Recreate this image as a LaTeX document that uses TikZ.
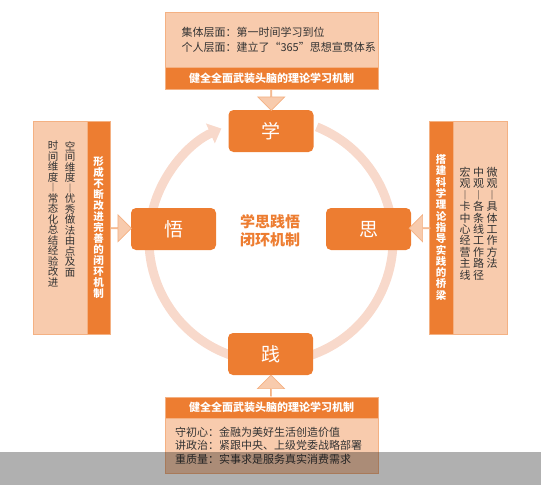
\documentclass[tikz,border=0pt]{standalone}
\usepackage{fontspec}
\setmainfont{Noto Sans CJK SC}
\usetikzlibrary{positioning,calc,shapes.arrows,arrows.meta}

\definecolor{orng}{HTML}{ED7D31}
\definecolor{peach}{HTML}{F8CBAD}
\definecolor{edgecol}{HTML}{F4B183}
\definecolor{ringcol}{HTML}{F8D9CB}
\definecolor{txt}{HTML}{333333}

% one character per line
\def\vtxt#1{\vtxtA#1\relax}
\def\vtxtA#1{#1\vtxtB}
\def\vtxtB#1{\ifx\relax#1\else\\#1\expandafter\vtxtB\fi}

\tikzset{
  stepbox/.style={fill=orng, rounded corners=5pt, minimum width=85pt, minimum height=42pt,
    text=white, font=\fontsize{19}{19}\selectfont},
  infobox/.style={fill=peach, draw=edgecol, line width=0.8pt, text=txt},
  band/.style={fill=orng, draw=edgecol, line width=0.8pt, text=white},
  bigarrow/.style={single arrow, fill=peach, draw=edgecol, line width=0.7pt, inner sep=0pt,
    minimum width=27pt, single arrow head extend=7.5pt, minimum height=21pt},
  coltext/.style={anchor=north, inner sep=0pt, align=center, text=txt}
}

\begin{document}
\begin{tikzpicture}[x=1pt, y=1pt]
\useasboundingbox (0,0) rectangle (541,-485);

\def\cx{271}
\def\yxue{-131}
\def\ymid{-229}
\def\yjian{-354}

\coordinate (o) at (\cx, -240);

% ring
\draw[ringcol, line width=9pt, -{Triangle[width=21pt, length=12pt]}]
  (o) ++(68:122) arc[start angle=68, end angle=-246, radius=122];

% the four steps
\node[stepbox] (xue) at (\cx, \yxue) {学};
\node[stepbox] (wu) at (173.5, \ymid) {悟};
\node[stepbox] (si) at (368.5, \ymid) {思};
\node[stepbox] (jian) at (270.5, \yjian) {践};

\node[text=orng, align=center, font=\bfseries\fontsize{15}{18}\selectfont] (ctr) at (270, -231)
  {学思践悟\\闭环机制};

% top
\node[infobox, minimum width=213pt, minimum height=55pt, text width=180pt, align=left,
  font=\fontsize{11}{15}\selectfont] (topinfo) at (271.5, -39.5)
  {集体层面：第一时间学习到位\\个人层面：建立了“365”思想宣贯体系};
\node[band, minimum width=213pt, minimum height=22pt, font=\bfseries\fontsize{11}{11}\selectfont]
  (topband) at (271.5, -78) {健全全面武装头脑的理论学习机制};

% bottom
\node[band, minimum width=213pt, minimum height=21pt, font=\bfseries\fontsize{11}{11}\selectfont]
  (botband) at (271.5, -407.5) {健全全面武装头脑的理论学习机制};
\node[infobox, minimum width=213pt, minimum height=55pt, text width=193pt, align=left,
  font=\fontsize{11}{13.5}\selectfont] (botinfo) at (271.5, -445.5)
  {守初心：金融为美好生活创造价值\\讲政治：紧跟中央、上级党委战略部署\\重质量：实事求是服务真实消费需求};

% left
\node[infobox, minimum width=54pt, minimum height=213pt] (leftinfo) at (60, -227.5) {};
\node[band, minimum width=23pt, minimum height=213pt, align=center,
  font=\bfseries\fontsize{10.5}{11}\selectfont] (leftband) at (98.5, -227.5)
  {\vtxt{形成不断改进完善的闭环机制}};
\node[coltext, font=\fontsize{10.5}{10.5}\selectfont] (spc) at (70, -141)
  {\vtxt{空间维度︱优秀做法由点及面}};
\node[coltext, font=\fontsize{10.5}{10.5}\selectfont] (tim) at (53, -141)
  {\vtxt{时间维度︱常态化总结经验改进}};

% right
\node[band, minimum width=24pt, minimum height=213pt, align=center,
  font=\bfseries\fontsize{10.5}{11.3}\selectfont] (rightband) at (441, -227.5)
  {\vtxt{搭建科学理论指导实践的桥梁}};
\node[infobox, minimum width=54pt, minimum height=213pt] (rightinfo) at (480, -227.5) {};
\node[coltext, font=\fontsize{11}{11.4}\selectfont] (micro) at (492, -167)
  {\vtxt{微观︱具体工作方法}};
\node[coltext, font=\fontsize{11}{11.4}\selectfont] (meso) at (478.5, -167)
  {\vtxt{中观︱各条线工作路径}};
\node[coltext, font=\fontsize{11}{11.4}\selectfont] (macro) at (465, -167)
  {\vtxt{宏观︱卡中心经营主线}};

% arrows into the loop
\node[bigarrow, rotate=-90] (a1) at ($(topband.south)!0.5!(xue.north)$) {};
\node[bigarrow] (a2) at ($(leftband.east)!0.5!(wu.west)$) {};
\node[bigarrow, rotate=180] (a3) at ($(rightband.west)!0.5!(si.east)$) {};
\node[bigarrow, rotate=90] (a4) at ($(botband.north)!0.5!(jian.south)$) {};

% grey strip
\fill[black, opacity=0.31] (0,-452) rectangle (541,-485);
\end{tikzpicture}
\end{document}
